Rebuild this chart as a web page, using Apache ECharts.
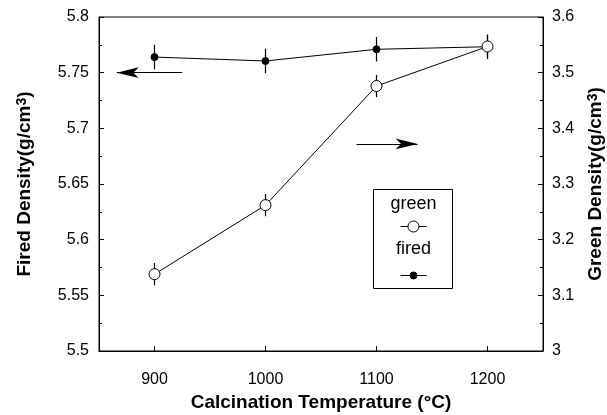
<!DOCTYPE html>
<html>
<head>
<meta charset="utf-8">
<script src="https://cdn.jsdelivr.net/npm/echarts@6/dist/echarts.min.js"></script>
<style>html,body{margin:0;padding:0;background:#fff}#c{width:607px;height:415px}</style>
</head>
<body>
<div id="c"></div>
<script>
var temperatures = [900, 1000, 1100, 1200];
var firedDensity = [5.764, 5.7605, 5.771, 5.7733];
var firedError = [0.011, 0.011, 0.011, 0.011];
var greenDensity = [3.138, 3.262, 3.476, 3.547];
var greenError = [0.02, 0.02, 0.02, 0.02];
var xTickLabels = [900, 1000, 1100, 1200];
var leftArrow = [[925, 5.75], [866, 5.75]];
var rightArrow = [[1082, 3.372], [1137, 3.372]];

var FONT = '"Liberation Sans", Arial, sans-serif';
var chart = echarts.init(document.getElementById('c'), null, {renderer: 'canvas'});

function pairs(xs, ys) { return xs.map(function (x, i) { return [x, ys[i]]; }); }
function errData(xs, ys, es) { return xs.map(function (x, i) { return [x, ys[i] - es[i], ys[i] + es[i]]; }); }
function errRender(params, api) {
  var lo = api.coord([api.value(0), api.value(1)]);
  var hi = api.coord([api.value(0), api.value(2)]);
  return {type: 'line', shape: {x1: lo[0], y1: lo[1], x2: hi[0], y2: hi[1]}, style: {stroke: '#000', lineWidth: 1.2}};
}

var labelStyle = {color: '#000', fontFamily: FONT, fontSize: 16};
var nameStyle = {color: '#000', fontFamily: FONT, fontSize: 19, fontWeight: 'bold',
  rich: {sup: {fontSize: 14, fontWeight: 'bold', fontFamily: FONT, color: '#000', verticalAlign: 'top', padding: [0, 0, 6, 0]}}};

chart.setOption({
  animation: false,
  backgroundColor: '#fff',
  grid: {left: 99, right: 64, top: 17, bottom: 64, outerBoundsMode: 'none', containLabel: false,
    show: true, borderColor: '#000', borderWidth: 1, backgroundColor: 'transparent'},
  xAxis: {
    type: 'value', min: 850, max: 1250,
    name: 'Calcination Temperature (°C)', nameLocation: 'middle', nameGap: 41,
    nameTextStyle: {color: '#000', fontFamily: FONT, fontSize: 19, fontWeight: 'bold'},
    axisLine: {lineStyle: {color: '#000'}},
    axisTick: {inside: true, length: 5, lineStyle: {color: '#000'}, customValues: xTickLabels},
    axisLabel: Object.assign({margin: 21, customValues: xTickLabels, formatter: function (v) { return String(v); }}, labelStyle),
    splitLine: {show: false}
  },
  yAxis: [{
    type: 'value', min: 5.5, max: 5.8, interval: 0.05, position: 'left',
    name: 'Fired Density(g/cm{sup|3})', nameLocation: 'middle', nameGap: 64, nameRotate: 90,
    nameTextStyle: nameStyle,
    axisLine: {show: true, lineStyle: {color: '#000'}},
    axisTick: {inside: true, length: 5, lineStyle: {color: '#000'}},
    minorTick: {show: true, splitNumber: 2, length: 3, lineStyle: {color: '#000'}},
    axisLabel: Object.assign({margin: 10}, labelStyle),
    splitLine: {show: false}
  }, {
    type: 'value', min: 3, max: 3.6, interval: 0.1, position: 'right',
    name: 'Green Density(g/cm{sup|3})', nameLocation: 'middle', nameGap: 43, nameRotate: 90,
    nameTextStyle: nameStyle,
    axisLine: {show: true, lineStyle: {color: '#000'}},
    axisTick: {inside: true, length: 5, lineStyle: {color: '#000'}},
    minorTick: {show: true, splitNumber: 2, length: 3, lineStyle: {color: '#000'}},
    axisLabel: Object.assign({margin: 9}, labelStyle),
    splitLine: {show: false}
  }],
  series: [{
    name: 'fired-err', type: 'custom', yAxisIndex: 0, z: 1, silent: true,
    renderItem: errRender, data: errData(temperatures, firedDensity, firedError)
  }, {
    name: 'green-err', type: 'custom', yAxisIndex: 1, z: 1, silent: true,
    renderItem: errRender, data: errData(temperatures, greenDensity, greenError)
  }, {
    name: 'fired', type: 'line', yAxisIndex: 0, z: 3,
    data: pairs(temperatures, firedDensity),
    symbol: 'circle', symbolSize: 7,
    itemStyle: {color: '#000', borderColor: '#000'},
    lineStyle: {color: '#000', width: 1},
    markLine: {
      silent: true, symbol: ['none', 'arrow'], symbolSize: [8, 22],
      label: {show: false}, lineStyle: {color: '#000', width: 1, type: 'solid'},
      data: [[{coord: leftArrow[0]}, {coord: leftArrow[1]}]]
    }
  }, {
    name: 'green', type: 'line', yAxisIndex: 1, z: 3,
    data: pairs(temperatures, greenDensity),
    symbol: 'circle', symbolSize: 11, showAllSymbol: true,
    itemStyle: {color: '#fff', borderColor: '#000', borderWidth: 1},
    lineStyle: {color: '#000', width: 1},
    markLine: {
      silent: true, symbol: ['none', 'arrow'], symbolSize: [8, 22],
      label: {show: false}, lineStyle: {color: '#000', width: 1, type: 'solid'},
      data: [[{coord: rightArrow[0]}, {coord: rightArrow[1]}]]
    }
  }],
  graphic: [{
    type: 'group', left: 373, top: 189,
    children: [
      {type: 'rect', shape: {x: 0, y: 0, width: 79, height: 99}, style: {fill: '#fff', stroke: '#000', lineWidth: 1}},
      {type: 'text', x: 40, y: 15, style: {text: 'green', font: '18px ' + FONT, fill: '#000', align: 'center', verticalAlign: 'middle'}},
      {type: 'line', shape: {x1: 27, y1: 37, x2: 53, y2: 37}, style: {stroke: '#000', lineWidth: 1}},
      {type: 'circle', shape: {cx: 40, cy: 37, r: 5.5}, style: {fill: '#fff', stroke: '#000', lineWidth: 1}},
      {type: 'text', x: 40, y: 60, style: {text: 'fired', font: '18px ' + FONT, fill: '#000', align: 'center', verticalAlign: 'middle'}},
      {type: 'line', shape: {x1: 27, y1: 86, x2: 53, y2: 86}, style: {stroke: '#000', lineWidth: 1}},
      {type: 'circle', shape: {cx: 40, cy: 86, r: 3.5}, style: {fill: '#000', stroke: '#000', lineWidth: 1}}
    ]
  }]
});
</script>
</body>
</html>
